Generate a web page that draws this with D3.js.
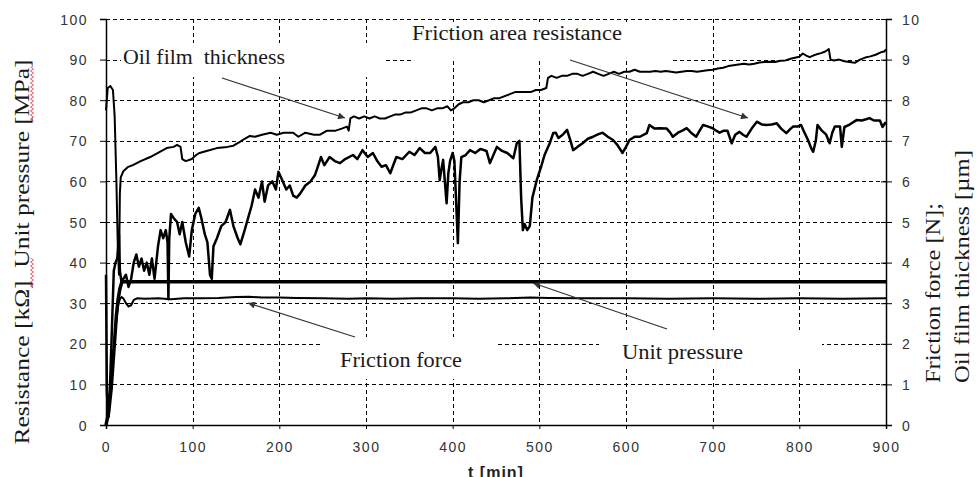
<!DOCTYPE html>
<html>
<head>
<meta charset="utf-8">
<script src="https://cdn.jsdelivr.net/npm/d3@7"></script>
<style>
  body { margin: 0; background: #fff; }
  svg { display: block; }
  .tick text { font-family: "Liberation Sans", Arial, sans-serif; font-size: 14px; fill: #333; letter-spacing: 1.5px; }
  .serif { font-family: "Liberation Serif", "Times New Roman", serif; fill: #1a1a1a; }
</style>
</head>
<body>
<svg id="chart"></svg>
<script>
// time axis ticks (min) and left / right tick values
var timeTicks = [0, 100, 200, 300, 400, 500, 600, 700, 800, 900];
var leftTicks = [0, 10, 20, 30, 40, 50, 60, 70, 80, 90, 100];
var rightTicks = [0, 1, 2, 3, 4, 5, 6, 7, 8, 9, 10];

// friction area resistance [kOhm] - [t, value]
var resistance = [[0,37],[1,8],[3,2],[5,12],[7,25],[9,38],[11,40],[13,41],[15,47],[16,38],[18,35],[20,36],[23,37],[26,34],[29,36],[32,40],[35,42],[38,39],[41,41],[44,38],[47,40],[50,37],[53,41],[56,36],[60,44],[63,48],[66,46],[69,48],[71,45],[72,31],[73,46],[75,52],[78,51],[82,50],[85,47],[88,50],[92,45],[96,41.5],[99,48],[103,52],[107,53.5],[110,51],[114,47],[117,45],[120,37],[122,36],[124,44],[128,46],[133,49],[138,50],[143,53],[147,49],[152,46],[155,44.5],[160,48],[164,51],[168,54],[172,58],[176,56],[180,60],[183,55],[187,59],[192,60],[196,58],[199,62.4],[204,60],[208,58],[212,59],[216,56.5],[220,56],[224,57],[230,59],[236,60],[241,61.5],[245,64],[248,66],[252,64],[258,66],[264,65],[270,64.5],[276,65.5],[285,66.5],[290,65.5],[296,67.7],[302,66],[308,67],[313,65],[318,63.6],[323,64],[328,62],[335,66],[342,65.5],[350,67.3],[356,66.5],[362,68.2],[368,67],[374,67],[380,68.5],[383,66],[385,60.3],[387,63],[389,65.3],[391,60],[393,54.6],[395,62],[397,65],[400,67],[402,65],[404,55],[406,44.8],[408,60],[410,66],[415,66.5],[420,67.7],[426,67],[432,68],[439,67.5],[443,64.5],[447,66.5],[451,68.5],[457,67.5],[463,67],[470,65.7],[474,69.4],[477,70],[479,56],[481,48],[483,49.5],[486,48],[489,49],[492,56],[497,60.3],[502,63.6],[506,66.5],[512,69.4],[516,71.9],[519,72],[522,70.7],[527,71.5],[532,72.7],[536,70],[539,67.7],[544,68.5],[550,69.4],[556,70.5],[562,71],[567,71.5],[573,72],[579,71],[585,70.2],[590,69],[596,67],[600,68.5],[604,70.2],[610,71],[616,71],[624,71.9],[627,73.9],[633,73],[639,73.1],[647,73],[651,72],[654,71],[660,72],[665,72.5],[670,73.1],[675,72],[681,71],[685,72.5],[689,73.9],[695,73.5],[700,73.1],[704,72.5],[708,72],[713,72.5],[717,72.5],[722,69.4],[726,71.5],[731,72.2],[735,71.5],[739,71],[745,73],[751,74.7],[757,74],[762,73.9],[768,74],[774,74.3],[779,73],[785,71.9],[790,73],[793,73.5],[798,73.5],[802,73.9],[806,72],[810,70.2],[814,68],[816,67.3],[819,70],[821,73.9],[826,72.5],[831,71.5],[835,69.4],[838,72],[841,73.5],[845,73.5],[847,73.5],[849,68.5],[852,73.4],[858,74],[866,75.1],[872,75],[877,75.3],[881,75.6],[886,75],[893,75],[896,73.4],[899,74.4],[900,74]];

// oil film thickness [um] - [t, value]
var oilFilm = [[0,7.75],[2,8.3],[5,8.35],[8,8.25],[10,7.6],[12,6.0],[13.5,4.5],[15,3.7],[16,5.7],[17,6.1],[20,6.25],[25,6.35],[31,6.4],[40,6.5],[51,6.6],[60,6.7],[70,6.82],[78,6.85],[82,6.9],[86,6.85],[88,6.55],[92,6.5],[99,6.55],[104,6.65],[108,6.7],[116,6.75],[128,6.82],[140,6.85],[147,6.88],[155,6.98],[160,7.05],[166,7.12],[172,7.1],[180,7.15],[190,7.2],[197,7.15],[205,7.2],[216,7.2],[222,7.1],[230,7.2],[240,7.15],[247,7.15],[255,7.25],[265,7.25],[272,7.3],[278,7.35],[280,7.25],[282,7.55],[286,7.6],[292,7.55],[298,7.6],[304,7.55],[310,7.6],[316,7.55],[322,7.55],[328,7.6],[334,7.65],[340,7.65],[346,7.7],[352,7.7],[358,7.75],[364,7.8],[370,7.8],[376,7.75],[382,7.8],[388,7.8],[394,7.85],[398,7.75],[402,7.8],[407,7.9],[412,7.95],[418,7.95],[424,8.0],[430,8.0],[436,7.95],[442,8.0],[448,8.05],[454,8.05],[460,8.1],[466,8.15],[472,8.2],[478,8.2],[484,8.2],[490,8.2],[496,8.25],[502,8.25],[508,8.3],[510,8.55],[514,8.6],[520,8.55],[526,8.6],[532,8.6],[538,8.65],[544,8.65],[550,8.6],[556,8.65],[562,8.7],[568,8.65],[574,8.6],[580,8.65],[586,8.7],[592,8.65],[598,8.7],[604,8.7],[610,8.75],[616,8.7],[622,8.7],[628,8.7],[634,8.72],[640,8.7],[646,8.72],[652,8.7],[658,8.68],[664,8.7],[670,8.72],[676,8.72],[682,8.7],[688,8.72],[694,8.74],[700,8.75],[706,8.78],[712,8.8],[718,8.84],[724,8.86],[730,8.88],[736,8.9],[742,8.88],[748,8.9],[754,8.93],[760,8.94],[766,8.95],[772,8.94],[778,8.97],[784,8.98],[790,9.02],[796,9.05],[800,9.07],[804,9.15],[808,9.1],[812,9.06],[816,9.1],[820,9.13],[825,9.16],[830,9.2],[834,9.26],[836,9.0],[840,8.98],[846,9.0],[852,8.96],[858,8.94],[864,8.92],[870,9.0],[876,9.05],[882,9.08],[888,9.12],[894,9.18],[898,9.2],[900,9.25]];

// friction force [N] - [t, value]
var frictionForce = [[0,0],[2,0.2],[4,0.6],[6,1.1],[8,1.6],[10,2.1],[12,2.6],[14,2.95],[16,3.1],[18,3.15],[20,3.12],[23,3.0],[26,2.92],[29,2.95],[32,3.08],[36,3.12],[45,3.11],[60,3.12],[75,3.1],[90,3.12],[110,3.12],[130,3.13],[150,3.15],[165,3.16],[180,3.14],[200,3.14],[220,3.13],[250,3.12],[280,3.11],[300,3.12],[330,3.11],[360,3.12],[400,3.12],[430,3.11],[460,3.12],[490,3.14],[510,3.13],[550,3.12],[600,3.12],[650,3.11],[700,3.12],[750,3.11],[800,3.12],[850,3.11],[900,3.12]];

// unit pressure [MPa] - [t, value]
var unitPressure = [[0,0],[3,3],[6,9],[9,18],[12,27],[14,31],[16,33.5],[18,35],[20,35.3],[900,35.3]];

var W = 977, H = 477;
var pL = 106, pR = 886, pT = 19, pB = 425;

var svg = d3.select("#chart").attr("width", W).attr("height", H);
svg.append("rect").attr("width", W).attr("height", H).attr("fill", "#fff");

var x = d3.scaleLinear().domain([0, 900]).range([pL, pR]);
var yL = d3.scaleLinear().domain([0, 100]).range([pB, pT]);
var yR = d3.scaleLinear().domain([0, 10]).range([pB, pT]);

// dashed grid
var grid = svg.append("g").attr("stroke", "#000").attr("stroke-width", 1).attr("stroke-dasharray", "4,3");
grid.selectAll("line.h").data(leftTicks.filter(function(d){ return d > 0; }))
  .enter().append("line")
  .attr("x1", pL).attr("x2", pR)
  .attr("y1", function(d){ return Math.round(yL(d)) + 0.5; })
  .attr("y2", function(d){ return Math.round(yL(d)) + 0.5; });
grid.selectAll("line.v").data(timeTicks.filter(function(d){ return d > 0 && d < 900; }))
  .enter().append("line")
  .attr("y1", pT).attr("y2", pB)
  .attr("x1", function(d){ return Math.round(x(d)) + 0.5; })
  .attr("x2", function(d){ return Math.round(x(d)) + 0.5; });

// white label boxes hiding the grid
var boxes = [[121, 43, 262, 34], [411, 22, 261, 39], [322, 337, 174, 42], [599, 330, 223, 37]];
svg.selectAll("rect.box").data(boxes).enter().append("rect")
  .attr("x", function(d){ return d[0]; }).attr("y", function(d){ return d[1]; })
  .attr("width", function(d){ return d[2]; }).attr("height", function(d){ return d[3]; })
  .attr("fill", "#fff");

// axes
var xAxis = d3.axisBottom(x).tickValues(timeTicks).tickSize(4).tickPadding(13);
svg.append("g").attr("transform", "translate(0," + pB + ")").call(xAxis);
var leftAxis = d3.axisLeft(yL).tickValues(leftTicks).tickSize(6).tickPadding(12);
svg.append("g").attr("class", "yax").attr("transform", "translate(" + pL + ",0)").call(leftAxis);
var rightAxis = d3.axisRight(yR).tickValues(rightTicks).tickSize(6).tickPadding(10);
var rg = svg.append("g").attr("class", "yax").attr("transform", "translate(" + pR + ",0)").call(rightAxis);
rg.selectAll(".tick line").attr("x1", -5);
svg.selectAll(".domain").attr("stroke", "#000").attr("stroke-width", 1.5);
svg.selectAll(".tick line").attr("stroke", "#000");
svg.selectAll(".yax .tick text").attr("dy", "0.36em");

// data lines
var lineL = d3.line().x(function(d){ return x(d[0]); }).y(function(d){ return yL(d[1]); });
var lineR = d3.line().x(function(d){ return x(d[0]); }).y(function(d){ return yR(d[1]); });

svg.append("path").datum(unitPressure).attr("d", lineL)
  .attr("fill", "none").attr("stroke", "#000").attr("stroke-width", 3.5);
svg.append("path").datum(frictionForce).attr("d", lineR)
  .attr("fill", "none").attr("stroke", "#000").attr("stroke-width", 2);
svg.append("path").datum(oilFilm).attr("d", lineR)
  .attr("fill", "none").attr("stroke", "#000").attr("stroke-width", 2).attr("stroke-linejoin", "round");
svg.append("path").datum(resistance).attr("d", lineL)
  .attr("fill", "none").attr("stroke", "#000").attr("stroke-width", 2.5).attr("stroke-linejoin", "round");

// annotations
svg.append("defs").append("marker")
  .attr("id", "arr").attr("viewBox", "0 0 10 10").attr("refX", 10).attr("refY", 5)
  .attr("markerWidth", 9).attr("markerHeight", 7).attr("markerUnits", "userSpaceOnUse")
  .attr("orient", "auto")
  .append("path").attr("d", "M0,0L10,5L0,10z").attr("fill", "#333");

var notes = [
  {text: "Oil film  thickness", x: 123, y: 64, w: 162, from: [222, 78], to: [345, 118]},
  {text: "Friction area resistance", x: 412, y: 40, w: 210, from: [570, 60], to: [748, 118]},
  {text: "Friction force", x: 340, y: 367, w: 122, from: [355, 337], to: [248, 303]},
  {text: "Unit pressure", x: 622, y: 359, w: 121, from: [667, 329], to: [533, 283]}
];
notes.forEach(function(n){
  svg.append("text").attr("class", "serif").attr("x", n.x).attr("y", n.y)
    .attr("font-size", 20).attr("textLength", n.w).attr("lengthAdjust", "spacingAndGlyphs")
    .attr("xml:space", "preserve").text(n.text);
  svg.append("line")
    .attr("x1", n.from[0]).attr("y1", n.from[1]).attr("x2", n.to[0]).attr("y2", n.to[1])
    .attr("stroke", "#333").attr("stroke-width", 1.2).attr("marker-end", "url(#arr)");
});

// axis titles
svg.append("text").attr("class", "serif")
  .attr("transform", "translate(29,252) rotate(-90)")
  .attr("text-anchor", "middle").attr("font-size", 22)
  .attr("textLength", 385).attr("lengthAdjust", "spacingAndGlyphs")
  .attr("xml:space", "preserve")
  .text("Resistance [k\u03A9]  Unit pressure [MPa]");

svg.append("text").attr("class", "serif")
  .attr("transform", "translate(940,383) rotate(-90)")
  .attr("font-size", 21).attr("textLength", 180).attr("lengthAdjust", "spacingAndGlyphs")
  .text("Friction force [N];");
svg.append("text").attr("class", "serif")
  .attr("transform", "translate(969,383) rotate(-90)")
  .attr("font-size", 21).attr("textLength", 233).attr("lengthAdjust", "spacingAndGlyphs")
  .text("Oil film thickness [\u00B5m]");

svg.append("text")
  .attr("x", (pL + pR) / 2).attr("y", 478)
  .attr("text-anchor", "middle")
  .attr("font-family", "Liberation Sans, Arial, sans-serif")
  .attr("font-weight", "bold").attr("font-size", 16).attr("fill", "#222")
  .attr("letter-spacing", 1)
  .text("t [min]");

// red spell-check squiggles under kOhm and MPa
function squiggle(xp, y0, y1) {
  var pts = [];
  for (var yy = y0, k = 0; yy <= y1; yy += 2, k++) pts.push([xp + (k % 2 ? 1.5 : -1.5), yy]);
  svg.append("path").attr("d", d3.line()(pts)).attr("fill", "none")
    .attr("stroke", "#e33").attr("stroke-width", 0.8);
}
squiggle(32, 258, 288);
squiggle(32, 67, 122);
</script>
</body>
</html>
